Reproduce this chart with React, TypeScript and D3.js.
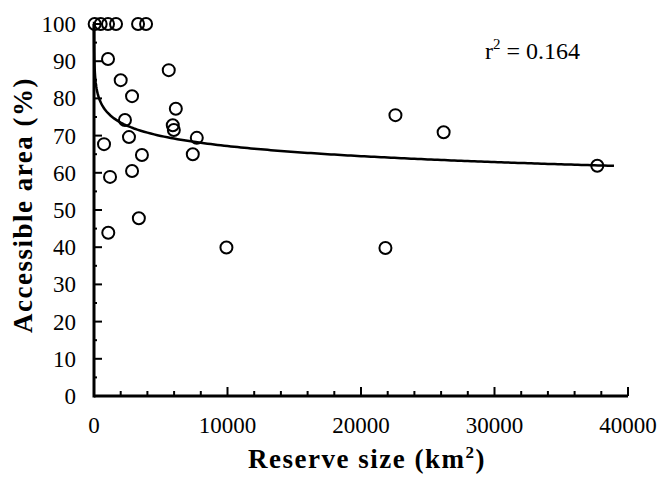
import React from "react";
import * as d3 from "d3";

const reserveSize = [50, 500, 1050, 1650, 3300, 3900, 1050, 5600, 2000, 2850, 6130, 2320, 5900, 5980, 2620, 7700, 750, 3590, 7400, 2850, 1200, 3360, 1070, 9920, 21830, 22580, 26190, 37700];
const accessible = [100, 100, 100, 100, 100, 100, 90.6, 87.6, 84.9, 80.6, 77.2, 74.2, 72.8, 71.5, 69.6, 69.4, 67.7, 64.8, 65.0, 60.5, 58.9, 47.8, 43.9, 39.9, 39.8, 75.5, 70.9, 61.9];
const xTicks = [0, 10000, 20000, 30000, 40000];
const yTicks = [0, 10, 20, 30, 40, 50, 60, 70, 80, 90, 100];
const fitA = 103.3;
const fitB = -3.92;
const fitStart = 2;
const fitEnd = 38950;
const rSquaredLabel = "0.164";

const W = 660, H = 477;
const FONT = "'Liberation Serif', 'Times New Roman', serif";

export default function App() {
  const x = d3.scaleLinear().domain([0, 40000]).range([94, 628]);
  const y = d3.scaleLinear().domain([0, 100]).range([396, 24]);
  const minorX = d3.range(0, 40001, 2000);
  const minorY = d3.range(0, 101, 5);
  const curveXs = [fitStart, ...d3.range(5, 100, 5), ...d3.range(100, 1000, 25), ...d3.range(1000, fitEnd, 250), fitEnd];
  const line = d3.line<number>().x((v) => x(v)).y((v) => y(fitA + fitB * Math.log(v)));
  return (
    <svg width={W} height={H} style={{ position: "absolute", left: 0, top: 0, background: "#fff" }} fontFamily={FONT}>
      <rect width={W} height={H} fill="#fff" />
      {minorX.map((v) => (
        <line key={"mx" + v} x1={x(v)} x2={x(v)} y1={y(0)} y2={y(0) - (v % 10000 === 0 ? 9 : 5)} stroke="#000" strokeWidth={2} />
      ))}
      {minorY.map((v) => (
        <line key={"my" + v} x1={x(0)} x2={x(0) + (v % 10 === 0 ? 8 : 3)} y1={y(v)} y2={y(v)} stroke="#000" strokeWidth={2} />
      ))}
      <line x1={x(0)} x2={x(40000)} y1={y(0)} y2={y(0)} stroke="#000" strokeWidth={3} />
      <line x1={x(0)} x2={x(0)} y1={y(0) + 1.5} y2={y(100)} stroke="#000" strokeWidth={3} />
      {xTicks.map((v) => (
        <text key={"xl" + v} x={x(v)} y={433} textAnchor="middle" fontSize={23}>{v}</text>
      ))}
      {yTicks.map((v) => (
        <text key={"yl" + v} x={76} y={y(v)} dy="0.35em" textAnchor="end" fontSize={23}>{v}</text>
      ))}
      <path d={line(curveXs) || ""} fill="none" stroke="#000" strokeWidth={2.5} />
      {reserveSize.map((v, i) => (
        <circle key={"p" + i} cx={x(v)} cy={y(accessible[i])} r={6} fill="none" stroke="#000" strokeWidth={2} />
      ))}
      <text x={485} y={59} fontSize={24}>
        r<tspan fontSize={15} dy={-10}>2</tspan><tspan dy={10}>{" = " + rSquaredLabel}</tspan>
      </text>
      <text x={367} y={468} textAnchor="middle" fontSize={27} fontWeight="bold" letterSpacing={1.5}>
        Reserve size (km<tspan fontSize={17} dy={-10}>2</tspan><tspan dy={10}>)</tspan>
      </text>
      <text transform={`translate(32,${205}) rotate(-90)`} textAnchor="middle" fontSize={27} fontWeight="bold" letterSpacing={1.5}>
        Accessible area (%)
      </text>
    </svg>
  );
}
